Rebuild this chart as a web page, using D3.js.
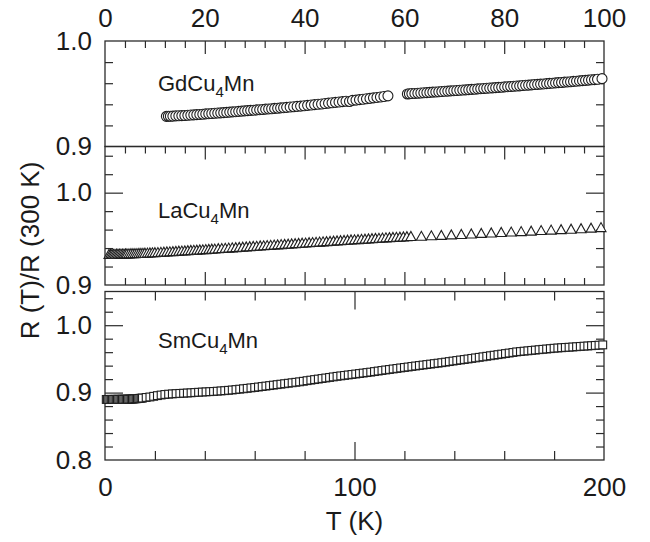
<!DOCTYPE html>
<html>
<head>
<meta charset="utf-8">
<script src="https://cdn.jsdelivr.net/npm/d3@7"></script>
<style>
  html, body { margin: 0; padding: 0; background: #fff; }
  svg { display: block; }
  text { font-family: "Liberation Sans", Arial, Helvetica, sans-serif; fill: #1a1a1a; }
</style>
</head>
<body>
<svg id="chart" width="650" height="542"></svg>
<script>
// GdCu4Mn, T in K (upper panel, 0-100 K scale)
const gdT = [12.3,12.7,13.1,13.6,14.2,14.8,15.4,16.0,16.6,17.2,17.8,18.4,19.0,19.6,20.2,20.8,21.4,22.0,22.6,23.2,
  23.8,24.4,25.0,25.6,26.2,26.8,27.4,28.0,28.6,29.2,29.8,30.4,31.0,31.6,32.2,32.8,33.4,34.0,34.6,35.2,
  35.8,36.4,37.1,37.8,38.5,39.2,39.9,40.6,41.3,42.0,42.7,43.4,44.1,44.8,45.5,46.2,46.9,47.6,48.3,49.0,
  49.6,50.3,51.0,51.7,52.4,53.1,53.8,54.5,55.2,55.9,56.7,
  60.6,61.0,61.5,62.1,62.7,63.3,63.9,64.5,65.1,65.7,66.3,66.9,67.5,68.1,68.7,69.3,69.9,70.5,71.1,71.7,
  72.3,72.9,73.5,74.1,74.7,75.3,75.9,76.5,77.1,77.7,78.3,78.9,79.5,80.1,80.7,81.3,81.9,82.5,83.1,83.7,
  84.3,84.9,85.5,86.1,86.7,87.3,87.9,88.5,89.1,89.7,90.3,90.9,91.5,92.1,92.7,93.3,93.9,94.5,95.1,95.7,
  96.3,96.9,97.5,98.1,98.7,99.6];
const gdR = [.9286,.9287,.9287,.9288,.9290,.9291,.9293,.9294,.9296,.9298,.9300,.9302,.9304,.9306,.9309,.9311,.9313,.9315,.9317,.9319,
  .9321,.9323,.9326,.9328,.9330,.9333,.9335,.9338,.9340,.9342,.9344,.9347,.9349,.9351,.9354,.9356,.9358,.9361,.9363,.9366,
  .9368,.9371,.9374,.9377,.9380,.9383,.9386,.9390,.9393,.9397,.9400,.9403,.9407,.9411,.9414,.9418,.9422,.9425,.9429,.9427,
  .9437,.9440,.9444,.9448,.9452,.9456,.9461,.9465,.9469,.9474,.9480,
  .9498,.9500,.9502,.9503,.9505,.9507,.9509,.9511,.9513,.9515,.9517,.9519,.9521,.9523,.9525,.9527,.9529,.9531,.9533,.9535,
  .9537,.9539,.9541,.9543,.9546,.9548,.9550,.9552,.9554,.9556,.9558,.9560,.9562,.9565,.9567,.9569,.9571,.9573,.9575,.9578,
  .9580,.9582,.9584,.9587,.9589,.9591,.9593,.9596,.9598,.9600,.9603,.9605,.9607,.9610,.9612,.9614,.9617,.9619,.9622,.9624,
  .9627,.9629,.9632,.9634,.9637,.9643];

// LaCu4Mn (middle panel, 0-100 K scale)
const laT = [0.8,1.1,1.4,1.7,2.0,2.3,2.6,2.9,3.2,3.5,3.8,4.1,4.4,4.8,5.2,5.6,6.0,6.4,6.8,7.2,7.6,8.0,8.5,9.0,9.5,10.0,
  10.6,11.2,11.8,12.4,13.0,13.6,14.2,14.8,15.4,16.0,16.6,17.2,17.8,18.4,19.0,19.6,20.2,20.8,21.4,22.0,
  22.7,23.4,24.1,24.8,25.5,26.2,26.9,27.6,28.3,29.0,29.7,30.4,31.1,31.8,32.5,33.2,33.9,34.6,35.3,36.0,
  36.7,37.4,38.1,38.8,39.5,40.2,40.9,41.6,42.3,43.0,43.7,44.4,45.1,45.8,46.5,47.2,47.9,48.6,49.3,50.0,
  50.7,51.4,52.1,52.8,53.5,54.2,54.9,55.6,56.3,57.0,57.7,58.4,59.1,59.8,60.5,61.3,
  63.4,65.4,67.4,69.4,71.4,73.4,75.4,77.4,79.4,81.4,83.4,85.4,87.4,89.4,91.4,93.4,95.4,97.4,99.4];
const laR = [.9336,.9337,.9337,.9338,.9338,.9339,.9339,.9340,.9340,.9341,.9341,.9342,.9342,.9343,.9344,.9344,.9345,.9346,.9347,.9348,.9349,.9350,.9351,.9352,.9354,.9355,
  .9357,.9359,.9361,.9363,.9365,.9367,.9369,.9371,.9373,.9375,.9377,.9379,.9381,.9383,.9385,.9387,.9389,.9391,.9393,.9395,
  .9398,.9400,.9403,.9405,.9408,.9410,.9413,.9415,.9418,.9420,.9423,.9425,.9428,.9430,.9433,.9435,.9438,.9440,.9443,.9445,
  .9448,.9450,.9453,.9455,.9458,.9460,.9463,.9465,.9468,.9470,.9473,.9475,.9478,.9480,.9483,.9485,.9488,.9490,.9493,.9495,
  .9497,.9500,.9502,.9504,.9507,.9509,.9511,.9514,.9516,.9518,.9520,.9522,.9524,.9526,.9528,.9531,
  .9533,.9538,.9543,.9548,.9553,.9558,.9564,.9569,.9574,.9579,.9584,.9589,.9595,.9600,.9605,.9610,.9615,.9621,.9627];

// SmCu4Mn (lower panel, 0-200 K scale)
const smT = [0.5,1.0,1.5,2.0,2.5,3.0,3.5,4.0,4.5,5.0,5.5,6.0,6.5,7.0,7.5,8.0,8.5,9.0,9.5,10.0,10.5,11.0,11.5,12.0,12.5,13.0,13.5,14.0,14.5,15.0,
  16.5,18.0,19.5,21.0,22.5,24.0,25.5,27.0,28.5,30.0,31.5,33.0,34.5,36.0,37.5,39.0,40.5,42.0,43.5,45.0,
  46.5,48.0,49.5,51.0,52.5,54.0,55.5,57.0,58.5,60.0,61.5,63.0,64.5,66.0,67.5,69.0,70.5,72.0,73.5,75.0,
  76.5,78.0,79.5,81.0,82.5,84.0,85.5,87.0,88.5,90.0,91.5,93.0,94.5,96.0,97.5,99.0,100.5,102.0,103.5,105.0,
  106.5,108.0,109.5,111.0,112.5,114.0,115.5,117.0,118.5,120.0,121.5,123.0,124.5,126.0,127.5,129.0,130.5,132.0,133.5,135.0,
  136.5,138.0,139.5,141.0,142.5,144.0,145.5,147.0,148.5,150.0,151.5,153.0,154.5,156.0,157.5,159.0,160.5,162.0,163.5,165.0,
  166.5,168.0,169.5,171.0,172.5,174.0,175.5,177.0,178.5,180.0,181.5,183.0,184.5,186.0,187.5,189.0,190.5,192.0,193.5,195.0,
  196.5,198.0,199.5];
const smR = [.8898,.8899,.8897,.8899,.8900,.8898,.8899,.8900,.8899,.8900,.8901,.8899,.8900,.8901,.8900,.8902,.8901,.8902,.8903,.8902,.8904,.8905,.8906,.8908,.8909,.8911,.8913,.8915,.8917,.8919,
  .8928,.8935,.8945,.8955,.8964,.8972,.8977,.8981,.8985,.8988,.8991,.8994,.8997,.9001,.9005,.9008,.9011,.9014,.9017,.9021,
  .9025,.9029,.9034,.9039,.9045,.9051,.9057,.9063,.9070,.9076,.9083,.9090,.9097,.9104,.9111,.9118,.9125,.9132,.9139,.9146,
  .9153,.9160,.9168,.9177,.9185,.9193,.9201,.9209,.9217,.9225,.9233,.9241,.9248,.9255,.9262,.9269,.9276,.9283,.9290,.9297,
  .9304,.9312,.9320,.9328,.9336,.9343,.9351,.9358,.9366,.9373,.9380,.9388,.9395,.9402,.9409,.9416,.9423,.9430,.9437,.9444,
  .9452,.9460,.9468,.9476,.9484,.9491,.9499,.9507,.9515,.9523,.9531,.9539,.9547,.9555,.9563,.9571,.9579,.9587,.9595,.9604,
  .9609,.9615,.9620,.9626,.9631,.9637,.9642,.9647,.9652,.9658,.9662,.9666,.9670,.9673,.9677,.9681,.9685,.9689,.9692,.9696,
  .9700,.9704,.9708];

// Tick labels
const topXLabels = [0, 20, 40, 60, 80, 100];
const bottomXLabels = [0, 100, 200];
const gdYLabels = [0.9, 1.0];
const laYLabels = [0.9, 1.0];
const smYLabels = [0.8, 0.9, 1.0];

const svg = d3.select("#chart");
const INK = "#2b2b2b";
const left = 105, right = 604;
const FS = 26;

const panels = {
  gd: { y0: 41, y1: 146.5, yDom: [0.9, 1.0], xDom: [0, 100] },
  la: { y0: 146.5, y1: 285, yDom: [0.9, 1.05], xDom: [0, 100] },
  sm: { y0: 291.5, y1: 460, yDom: [0.8, 1.05], xDom: [0, 200] }
};
for (const p of Object.values(panels)) {
  p.x = d3.scaleLinear().domain(p.xDom).range([left, right]);
  p.y = d3.scaleLinear().domain(p.yDom).range([p.y1, p.y0]);
}

const steps = (a, b, s) => d3.range(Math.round((b - a) / s) + 1).map(i => +(a + i * s).toFixed(4));

function tickGroup(axis, tx, ty) {
  const g = svg.append("g").attr("transform", `translate(${tx},${ty})`).call(axis);
  g.select(".domain").remove();
  g.selectAll(".tick line").attr("stroke", INK).attr("stroke-width", 1.2);
  return g;
}

// inward ticks for one panel
function panelTicks(p, opt) {
  [[d3.axisLeft, left], [d3.axisRight, right]].forEach(([ax, xpos]) => {
    tickGroup(ax(p.y).tickValues(opt.yMinor).tickSize(-opt.yMinorLen).tickFormat(""), xpos, 0);
    if (opt.yMajor.length) tickGroup(ax(p.y).tickValues(opt.yMajor).tickSize(-opt.yMajorLen).tickFormat(""), xpos, 0);
  });
  const edges = [];
  if (opt.top) edges.push([d3.axisTop, p.y0]);
  if (opt.bottom) edges.push([d3.axisBottom, p.y1]);
  edges.forEach(([ax, ypos]) => {
    tickGroup(ax(p.x).tickValues(opt.xMinor).tickSize(-opt.xMinorLen).tickFormat(""), 0, ypos);
    tickGroup(ax(p.x).tickValues(opt.xMajor).tickSize(-opt.xMajorLen).tickFormat(""), 0, ypos);
  });
}

const xMinor100 = steps(4, 96, 4).filter(v => v % 20 !== 0);
const xMajor100 = [20, 40, 60, 80];

panelTicks(panels.gd, {
  yMinor: steps(0.92, 0.98, 0.02), yMajor: [], yMinorLen: 8, yMajorLen: 18,
  top: true, bottom: false, xMinor: xMinor100, xMajor: xMajor100, xMinorLen: 7, xMajorLen: 13
});
panelTicks(panels.la, {
  yMinor: steps(0.92, 1.04, 0.02).filter(v => v !== 1.0), yMajor: [1.0], yMinorLen: 8, yMajorLen: 18,
  top: true, bottom: true, xMinor: xMinor100, xMajor: xMajor100, xMinorLen: 7, xMajorLen: 13
});
panelTicks(panels.sm, {
  yMinor: steps(0.82, 1.04, 0.02).filter(v => v !== 0.9 && v !== 1.0), yMajor: [0.9, 1.0], yMinorLen: 8, yMajorLen: 18,
  top: true, bottom: true, xMinor: [20, 40, 60, 80, 120, 140, 160, 180], xMajor: [100], xMinorLen: 9, xMajorLen: 18
});

// frames
for (const p of Object.values(panels)) {
  svg.append("rect")
    .attr("x", left).attr("y", p.y0)
    .attr("width", right - left).attr("height", p.y1 - p.y0)
    .attr("fill", "none").attr("stroke", INK).attr("stroke-width", 1.3);
}

// tick labels
function labelAxis(axis, tx, ty) {
  const g = svg.append("g").attr("transform", `translate(${tx},${ty})`).call(axis);
  g.select(".domain").remove();
  g.selectAll(".tick line").remove();
  g.selectAll("text").attr("font-size", FS).attr("font-family", "Liberation Sans, Arial, sans-serif").attr("fill", "#1a1a1a");
  return g;
}
const fmt1 = d3.format(".1f");
labelAxis(d3.axisLeft(panels.gd.y).tickValues(gdYLabels).tickSize(0).tickPadding(13).tickFormat(fmt1), left, 0);
labelAxis(d3.axisLeft(panels.la.y).tickValues(laYLabels).tickSize(0).tickPadding(13).tickFormat(fmt1), left, 0);
labelAxis(d3.axisLeft(panels.sm.y).tickValues(smYLabels).tickSize(0).tickPadding(13).tickFormat(fmt1), left, 0);
labelAxis(d3.axisTop(panels.gd.x).tickValues(topXLabels).tickSize(0).tickPadding(14).tickFormat(d3.format("d")), 0, panels.gd.y0);
labelAxis(d3.axisBottom(panels.sm.x).tickValues(bottomXLabels).tickSize(0).tickPadding(18).tickFormat(d3.format("d")), 0, panels.sm.y1);

// markers (later points drawn over earlier ones)
const MARK = { stroke: "#1e1e1e", width: 1.1 };
const gdPts = gdT.map((t, i) => [t, gdR[i]]);
svg.append("g").selectAll("circle").data(gdPts).join("circle")
  .attr("cx", d => panels.gd.x(d[0])).attr("cy", d => panels.gd.y(d[1])).attr("r", 5)
  .attr("fill", "#fff").attr("stroke", MARK.stroke).attr("stroke-width", MARK.width);

const laPts = laT.map((t, i) => [t, laR[i]]);
svg.append("g").selectAll("path").data(laPts).join("path")
  .attr("d", d => {
    const cx = panels.la.x(d[0]), cy = panels.la.y(d[1]), w = 10, h = 9;
    return `M${cx - w / 2},${cy + h / 2}L${cx + w / 2},${cy + h / 2}L${cx},${cy - h / 2}Z`;
  })
  .attr("fill", "#fff").attr("stroke", MARK.stroke).attr("stroke-width", MARK.width);

const smPts = smT.map((t, i) => [t, smR[i]]);
const sq = 7.8;
svg.append("g").selectAll("rect").data(smPts).join("rect")
  .attr("x", d => panels.sm.x(d[0]) - sq / 2).attr("y", d => panels.sm.y(d[1]) - sq / 2)
  .attr("width", sq).attr("height", sq)
  .attr("fill", "#fff").attr("stroke", MARK.stroke).attr("stroke-width", MARK.width);

// compound names
function compound(prefix, yBase) {
  const t = svg.append("text").attr("x", 158).attr("y", yBase).attr("font-size", 22);
  t.append("tspan").text(prefix + "Cu");
  t.append("tspan").attr("font-size", 15).attr("dy", 6).text("4");
  t.append("tspan").attr("dy", -6).text("Mn");
}
compound("Gd", 91);
compound("La", 218);
compound("Sm", 348);

// axis titles
svg.append("text")
  .attr("x", (left + right) / 2).attr("y", 530)
  .attr("text-anchor", "middle").attr("font-size", FS).text("T (K)");
svg.append("text")
  .attr("transform", `translate(39,${(panels.gd.y0 + panels.sm.y1) / 2}) rotate(-90)`)
  .attr("text-anchor", "middle").attr("font-size", FS).text("R (T)/R (300 K)");
</script>
</body>
</html>
